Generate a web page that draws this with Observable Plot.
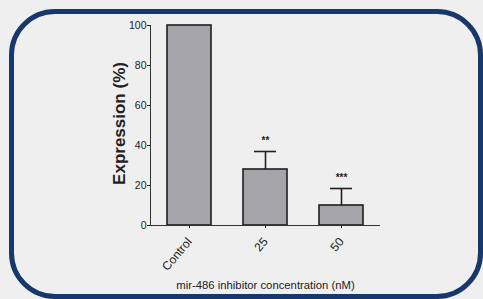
<!DOCTYPE html>
<html>
<head>
<meta charset="utf-8">
<script src="https://cdn.jsdelivr.net/npm/d3@7"></script>
<script src="https://cdn.jsdelivr.net/npm/@observablehq/plot@0.6"></script>
<style>
  html, body { margin: 0; padding: 0; width: 483px; height: 299px; overflow: hidden; background: #efefef; }
  #frame { position: absolute; left: 9px; top: 9px; width: 474px; height: 290px; box-sizing: border-box;
           border: 5px solid #17386a; border-radius: 46px; }
  #chart { position: absolute; left: 0; top: 0; }
  #chart svg { background: transparent; }
</style>
</head>
<body>
<div id="frame"></div>
<div id="chart"></div>
<script>
const categories = ["Control", "25", "50"];
const values = [100, 28, 10];
const errors = [0, 9, 8.5];
const stars = ["", "**", "***"];
const yTicks = [0, 20, 40, 60, 80, 100];
const yLabel = "Expression (%)";
const xLabel = "mir-486 inhibitor concentration (nM)";

const data = categories.map((c, i) => ({cat: c, value: values[i], err: errors[i], top: values[i] + errors[i], star: stars[i]}));
const withErr = data.filter(d => d.err > 0);

const plot = Plot.plot({
  width: 483,
  height: 299,
  marginLeft: 150,
  marginRight: 103,
  marginTop: 25,
  marginBottom: 74,
  style: {background: "transparent", fontFamily: "'Liberation Sans', Arial, sans-serif", color: "#222"},
  x: {domain: categories, paddingInner: 0.425, paddingOuter: 0.2125, label: null},
  y: {domain: [0, 100], label: null},
  marks: [
    Plot.barY(data, {x: "cat", y: "value", fill: "#a4a4a9", stroke: "#1e1e1e", strokeWidth: 1.6}),
    Plot.ruleX(withErr, {x: "cat", y1: "value", y2: "top", stroke: "#1e1e1e", strokeWidth: 1.6}),
    Plot.tickY(withErr, {x: "cat", y: "top", stroke: "#1e1e1e", strokeWidth: 1.6, insetLeft: 11, insetRight: 11}),
    Plot.text(withErr, {x: "cat", y: "top", text: "star", dy: -8, lineAnchor: "bottom", fontSize: 10, fontWeight: "bold", fill: "#222"}),
    Plot.frame({anchor: "left", stroke: "#333", strokeWidth: 1}),
    Plot.ruleY([0], {stroke: "#333", strokeWidth: 1.2}),
    Plot.axisY({ticks: yTicks, tickSize: 3, tickPadding: 1, fontSize: 10.5, label: null, fill: "#222"}),
    Plot.axisX({tickSize: 3, tickRotate: -50, tickPadding: 11, fontSize: 12, label: null, fill: "#222"}),
    Plot.text([yLabel], {frameAnchor: "left", text: d => d, rotate: -90, dx: -26, dy: -2, textAnchor: "middle", lineAnchor: "bottom",
      fontSize: 17, fontWeight: "bold", fill: "#222"}),
    Plot.text([xLabel], {frameAnchor: "bottom", text: d => d, dy: 63, textAnchor: "middle", lineAnchor: "bottom",
      fontSize: 11.3, fill: "#222"})
  ]
});
document.getElementById("chart").appendChild(plot);
</script>
</body>
</html>
